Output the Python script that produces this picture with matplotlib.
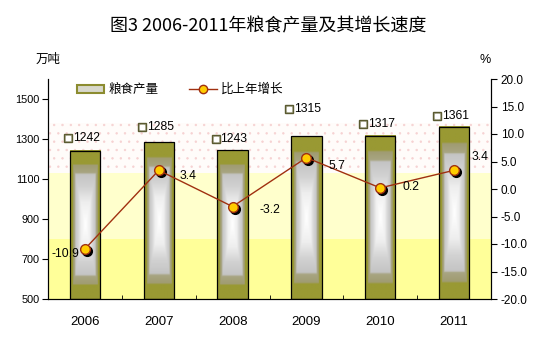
import matplotlib
matplotlib.use('Agg')
import matplotlib.pyplot as plt
import matplotlib.transforms as mtransforms
from matplotlib.colors import LinearSegmentedColormap
from matplotlib.patches import Patch, Rectangle
from matplotlib.lines import Line2D
import numpy as np

plt.rcParams['font.family'] = ['Liberation Sans', 'Noto Sans CJK SC', 'DejaVu Sans']

years = ['2006', '2007', '2008', '2009', '2010', '2011']
output = [1242, 1285, 1243, 1315, 1317, 1361]       # 万吨
growth = [-10.9, 3.4, -3.2, 5.7, 0.2, 3.4]          # %

# label placement (pixels)
bar_label_dy = [13, 15, 11, 27, 12, 11]
growth_label_off = [(-6, -5, 'right'), (21, -6, 'left'), (27, -3, 'left'),
                    (22, -8, 'left'), (22, 1, 'left'), (17, 13, 'left')]

fig = plt.figure(figsize=(5.37, 3.38), dpi=100)
ax = fig.add_axes([48 / 537, 39 / 338, 443 / 537, 220 / 338])
ax2 = ax.twinx()

x = np.arange(len(years))
width = 0.41

ax.set_xlim(-0.5, 5.5)
ax.set_ylim(500, 1600)
ax2.set_ylim(-20, 20)

# background bands
ax.axhspan(500, 800, color='#FFFF99', lw=0, zorder=0)
ax.axhspan(800, 1130, color='#FFFFCC', lw=0, zorder=0)
plt.rcParams['hatch.linewidth'] = 0.5
ax.axhspan(1130, 1380, facecolor='#FFFCFA', edgecolor='#F6D2D2', hatch='..', lw=0, zorder=0)

# bars with a rectangular gradient fill
cmap = LinearSegmentedColormap.from_list('bar', [
    (0.0, '#FFFFFF'), (0.3, '#EEEEEE'), (0.5, '#D2D2D2'), (0.68, '#C4C4C4'),
    (0.7, '#A8A582'), (0.8, '#A09C72'), (0.82, '#999933'), (1.0, '#999933')])
uu, vv = np.meshgrid(np.linspace(-1, 1, 40), np.linspace(-1, 1, 160))
grad = np.maximum(np.abs(uu), np.abs(vv))
for xi, v in zip(x, output):
    ax.imshow(grad, cmap=cmap, vmin=0, vmax=1, aspect='auto', interpolation='bilinear',
              extent=(xi - width / 2, xi + width / 2, 500, v), zorder=2)
    ax.add_patch(Rectangle((xi - width / 2, 500), width, v - 500, fill=False,
                           ec='black', lw=0.9, zorder=3))

# value labels above bars with small key icon
for xi, v, dy in zip(x, output, bar_label_dy):
    tr = mtransforms.offset_copy(ax.transData, fig=fig, x=-17, y=dy, units='dots')
    ax.plot(xi, v, 's', transform=tr, ms=6, mfc='#A8A890', mec='#5A5A30', mew=1, zorder=4, clip_on=False)
    ax.plot(xi, v, 's', transform=tr, ms=2.2, mfc='white', mec='white', zorder=5, clip_on=False)
    ax.annotate(str(v), (xi, v), xytext=(-12, dy), textcoords='offset pixels',
                ha='left', va='center', fontsize=8.7, zorder=5, annotation_clip=False)

# growth line with shadowed markers
shadow = mtransforms.offset_copy(ax2.transData, fig=fig, x=2, y=-2, units='dots')
ax2.plot(x, growth, 'o', transform=shadow, ms=7, mfc='black', mec='black', zorder=3)
ax2.plot(x, growth, '-', color='#A03010', lw=1, zorder=4)
ax2.plot(x, growth, 'o', ms=7, mfc='#FFCC00', mec='#A03010', mew=1, zorder=5)
for xi, g, (dx, dy, ha) in zip(x, growth, growth_label_off):
    ax2.annotate(f'{g:.1f}', (xi, g), xytext=(dx, dy), textcoords='offset pixels',
                 ha=ha, va='center', fontsize=8.7, zorder=6)

# axes styling
for a in (ax, ax2):
    a.spines['top'].set_visible(False)
ax.set_yticks(range(500, 1600, 200))
ax.tick_params(axis='y', direction='out', length=4, labelsize=7.8, pad=2)
ax2.set_yticks(np.arange(-20, 21, 5))
ax2.set_yticklabels([f'{t:.1f}' for t in np.arange(-20, 21, 5)])
ax2.tick_params(axis='y', direction='out', length=4, labelsize=8.5, pad=3)
ax.set_xticks(x)
ax.set_xticklabels(years, fontsize=9.5)
ax.set_xticks(np.arange(0.5, 5.5, 1), minor=True)
ax.tick_params(axis='x', which='major', length=0, pad=12)
ax.tick_params(axis='x', which='minor', direction='in', length=3)

fig.text(48 / 537, 1 - 60 / 338, '万吨', fontsize=9, ha='center', va='center')
fig.text(485 / 537, 1 - 60 / 338, '%', fontsize=9, ha='center', va='center')
fig.text(0.5, 1 - 26 / 338, '图3 2006-2011年粮食产量及其增长速度', fontsize=13,
         ha='center', va='center', family=['Noto Sans CJK SC'], fontweight='medium')

handles = [Patch(facecolor='#D8D8CC', edgecolor='#8C8C30', lw=1.5),
           Line2D([], [], color='#A03010', lw=1, marker='o', ms=6, mfc='#FFCC00', mec='#A03010')]
ax2.legend(handles, ['粮食产量', '比上年增长'], loc='upper left', bbox_to_anchor=(0.04, 1.03),
           ncol=2, frameon=False, fontsize=9, handlelength=2.2, handleheight=0.6,
           columnspacing=2.5, handletextpad=0.3)

fig.savefig('out.png', dpi=100)
